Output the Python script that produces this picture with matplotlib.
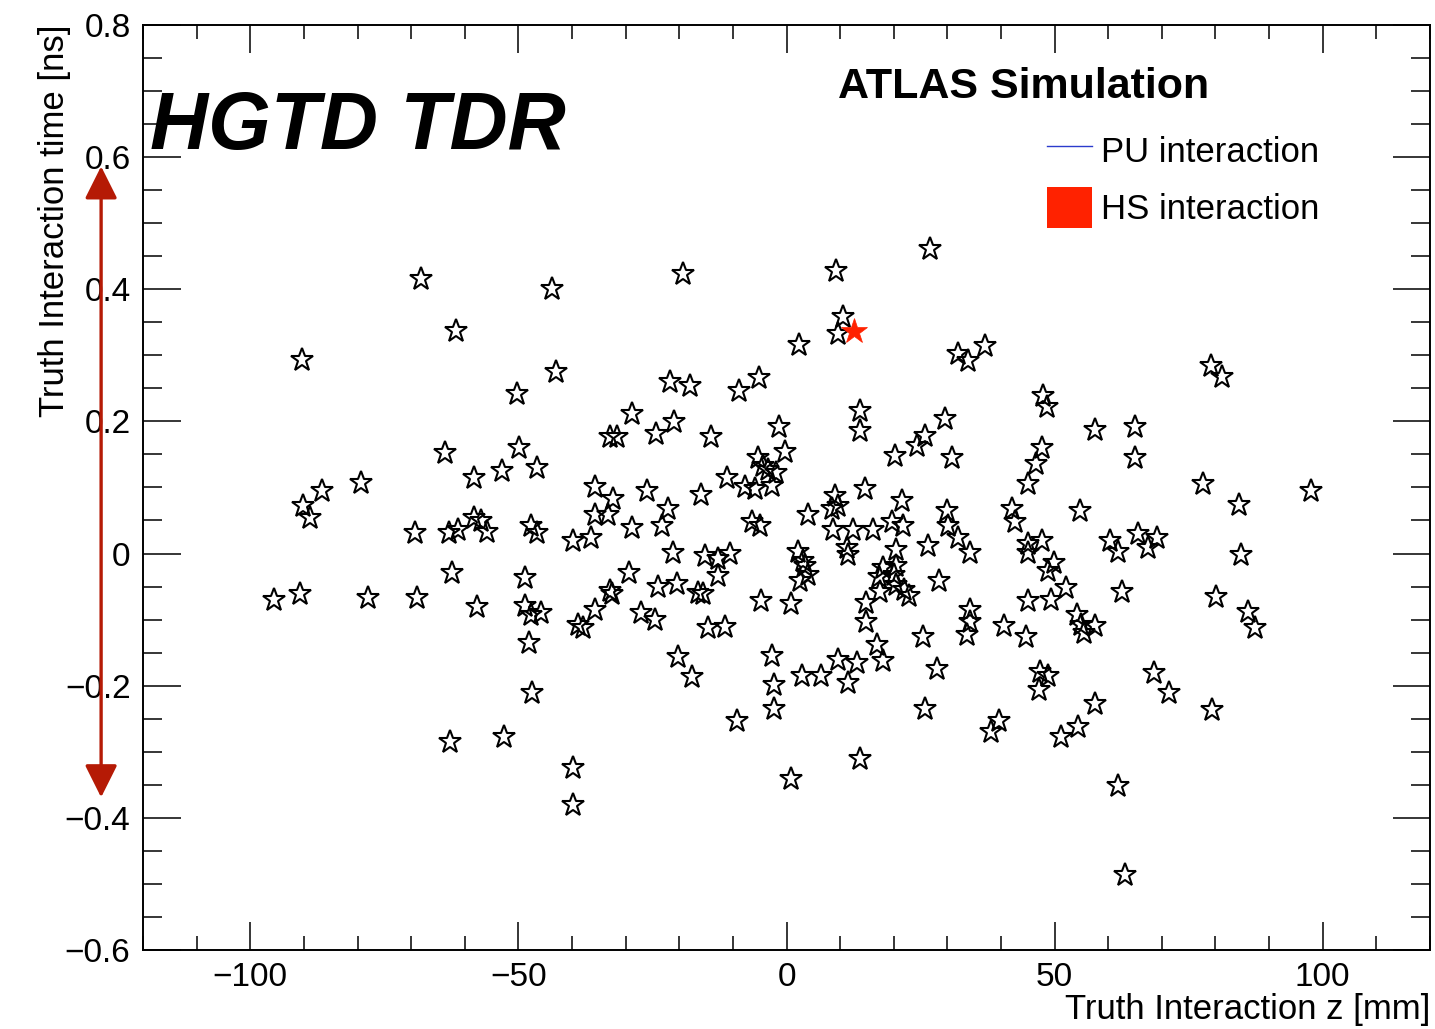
import matplotlib
matplotlib.use("Agg")
import matplotlib.pyplot as plt
import matplotlib.patches as mpatches
from matplotlib.lines import Line2D
from matplotlib.ticker import MultipleLocator, FuncFormatter
from matplotlib.transforms import blended_transform_factory

plt.rcParams['font.family'] = ['Liberation Sans', 'DejaVu Sans']

# pile-up vertices: z [mm], t [ns]
pu_z = [-95.5, -90.8, -90.4, -90.2, -88.9, -86.6, -79.4, -78.0, -69.2, -69.0,
        -68.1, -63.6, -63.0, -62.4, -62.8, -61.6, -61.3, -58.3, -58.2, -56.9,
        -55.8, -57.8, -53.0, -52.7, -50.2, -49.9, -48.8, -47.6, -46.6, -46.5,
        -48.8, -47.6, -45.7, -48.0, -47.4, -43.7, -42.9, -39.8, -39.8, -39.8,
        -38.9, -37.9, -36.5, -35.8, -35.8, -33.3, -32.3, -35.8, -33.0, -32.6,
        -33.0, -31.7, -29.4, -28.9, -28.9, -26.1, -27.1, -24.6, -24.3, -23.9,
        -23.3, -22.1, -21.8, -21.1, -21.0, -20.5, -20.2, -19.3, -18.0, -17.7,
        -16.5, -15.5, -15.9, -15.2, -14.6, -14.1, -12.7, -12.7, -11.5, -11.1,
        -10.6, -9.3, -8.9, -7.8, -6.5, -5.0, -5.3, -5.2, -4.8, -3.4,
        -1.9, -1.4, -0.3, -2.8, -2.3, -2.3, 0.8, 0.9, 2.2, 2.3,
        3.1, 3.4, 4.0, 2.5, 4.0, 2.8, 6.5, 8.7, 8.4, 9.0,
        9.6, 9.2, 10.6, 9.6, 9.6, 11.2, 11.5, 11.5, 12.4, 13.1,
        13.7, 13.7, 13.7, 14.6, 14.9, 14.9, 16.2, 16.8, 18.0, 17.2,
        20.1, 20.5, 22.0, 17.4, 22.9, 18.0, 20.5, 19.6, 21.8, 20.5,
        21.6, 20.2, 25.5, 25.9, 26.3, 24.4, 25.8, 26.7, 28.0, 28.5,
        29.5, 29.9, 30.2, 30.8, 32.0, 32.0, 33.9, 34.2, 34.2, 34.2,
        33.6, 37.1, 38.2, 39.6, 40.6, 42.0, 42.6, 44.6, 45.1, 46.5,
        47.6, 47.9, 48.5, 45.1, 47.6, 45.1, 45.1, 48.8, 49.8, 49.3,
        52.2, 47.3, 48.8, 47.0, 51.2, 54.3, 54.1, 55.0, 55.4, 57.5,
        54.7, 57.6, 57.5, 60.3, 61.9, 61.8, 62.6, 63.1, 65.0, 65.0,
        65.6, 67.5, 69.0, 68.5, 71.4, 77.6, 79.2, 81.2, 79.3, 80.1,
        84.3, 84.8, 86.1, 87.4, 97.9, -5.9, -2.8, -4.3]
pu_t = [-0.071, -0.061, 0.293, 0.072, 0.053, 0.094, 0.107, -0.068, 0.031, -0.068,
        0.415, 0.152, 0.031, -0.029, -0.285, 0.337, 0.035, 0.114, 0.054, 0.049,
        0.032, -0.081, 0.125, -0.278, 0.242, 0.159, -0.037, 0.041, 0.031, 0.130,
        -0.080, -0.093, -0.090, -0.136, -0.211, 0.400, 0.274, 0.019, -0.324, -0.381,
        -0.108, -0.113, 0.023, 0.100, 0.059, 0.059, 0.082, -0.085, -0.057, -0.062,
        0.176, 0.176, -0.029, 0.211, 0.039, 0.095, -0.090, -0.100, 0.181, -0.050,
        0.041, 0.068, 0.259, 0.001, 0.199, -0.046, -0.156, 0.423, 0.253, -0.187,
        -0.060, -0.062, 0.088, -0.004, -0.113, 0.176, -0.009, -0.034, -0.111, 0.115,
        0.000, -0.253, 0.246, 0.100, 0.047, 0.041, 0.145, 0.265, -0.072, 0.127,
        0.122, 0.191, 0.154, -0.155, -0.199, -0.236, -0.077, -0.342, 0.003, 0.316,
        -0.012, -0.019, -0.032, -0.042, 0.058, -0.186, -0.186, 0.036, 0.067, 0.087,
        0.072, 0.428, 0.358, 0.332, -0.161, 0.009, -0.002, -0.196, 0.036, -0.166,
        0.216, 0.186, -0.311, 0.097, -0.075, -0.103, 0.036, -0.138, -0.163, -0.035,
        -0.032, -0.047, -0.055, -0.058, -0.065, -0.022, -0.019, 0.047, 0.041, 0.006,
        0.079, 0.147, -0.126, -0.236, 0.012, 0.163, 0.178, 0.461, -0.175, -0.041,
        0.203, 0.064, 0.041, 0.145, 0.024, 0.302, 0.292, 0.001, -0.085, -0.103,
        -0.123, 0.314, -0.270, -0.254, -0.110, 0.067, 0.047, -0.126, 0.105, 0.135,
        0.160, 0.239, 0.221, 0.014, 0.019, 0.001, -0.072, -0.027, -0.014, -0.071,
        -0.052, -0.179, -0.186, -0.206, -0.277, -0.263, -0.093, -0.108, -0.120, -0.110,
        0.065, 0.187, -0.228, 0.019, 0.003, -0.352, -0.059, -0.486, 0.191, 0.145,
        0.029, 0.009, 0.024, -0.181, -0.211, 0.105, 0.284, 0.267, -0.237, -0.066,
        0.074, -0.002, -0.088, -0.113, 0.095, 0.098, 0.102, 0.132]

# hard-scatter vertex
hs_z = [12.6]
hs_t = [0.337]

# arrow drawn on the left (time spread)
arrow_t = [0.586, -0.369]

fig = plt.figure(figsize=(14.35, 10.29), dpi=100)
ax = fig.add_axes([0.0997, 0.0768, 0.8968, 0.899])

ax.plot(pu_z, pu_t, linestyle="None", marker="*", markersize=17,
        markerfacecolor="none", markeredgecolor="black", markeredgewidth=1.5)
ax.plot(hs_z, hs_t, linestyle="None", marker="*", markersize=19,
        markerfacecolor="#ff2200", markeredgecolor="#ff2200", markeredgewidth=0.5)

ax.set_xlim(-120, 120)
ax.set_ylim(-0.6, 0.8)

ax.xaxis.set_major_locator(MultipleLocator(50))
ax.xaxis.set_minor_locator(MultipleLocator(10))
ax.yaxis.set_major_locator(MultipleLocator(0.2))
ax.yaxis.set_minor_locator(MultipleLocator(0.05))
fmt = FuncFormatter(lambda v, p: ("%g" % round(v, 3)).replace("-", "\u2212"))
ax.xaxis.set_major_formatter(fmt)
ax.yaxis.set_major_formatter(fmt)

for sp in ax.spines.values():
    sp.set_linewidth(1.4)
ax.tick_params(which="both", direction="in", top=True, right=True, width=1.1,
               labelsize=24)
ax.tick_params(axis="x", which="major", length=20, pad=9)
ax.tick_params(axis="x", which="minor", length=10)
ax.tick_params(axis="y", which="major", length=27, pad=9)
ax.tick_params(axis="y", which="minor", length=13.5)

ax.set_xlabel("Truth Interaction z [mm]", fontsize=25, loc="right")
ax.xaxis.set_label_coords(1.0, -0.046)
ax.set_ylabel("Truth Interaction time [ns]", fontsize=25, loc="top")
ax.yaxis.set_label_coords(-0.056, 1.0)

ax.text(0.0054, 0.866, "HGTD TDR", transform=ax.transAxes, fontsize=58,
        fontweight="bold", fontstyle="italic", va="baseline", ha="left")
ax.text(0.540, 0.921, "ATLAS Simulation", transform=ax.transAxes, fontsize=31,
        fontweight="bold", va="baseline", ha="left")

handles = [Line2D([], [], color="#2b3bcc", lw=1.0),
           mpatches.Patch(facecolor="#ff2200", edgecolor="none")]
ax.legend(handles, ["PU interaction", "HS interaction"], loc="upper left",
          bbox_to_anchor=(0.7024, 0.886), frameon=False, fontsize=25,
          borderpad=0, borderaxespad=0, handlelength=1.3, handleheight=1.45,
          handletextpad=0.26, labelspacing=0.45)

trans = blended_transform_factory(ax.transAxes, ax.transData)
ax.annotate("", xy=(-0.0326, arrow_t[1]), xytext=(-0.0326, arrow_t[0]),
            xycoords=trans, textcoords=trans, annotation_clip=False,
            arrowprops=dict(arrowstyle="<|-|>", mutation_scale=50, lw=2.4,
                            color="#b51a05", shrinkA=0, shrinkB=0))

fig.savefig("out.png", dpi=100)
